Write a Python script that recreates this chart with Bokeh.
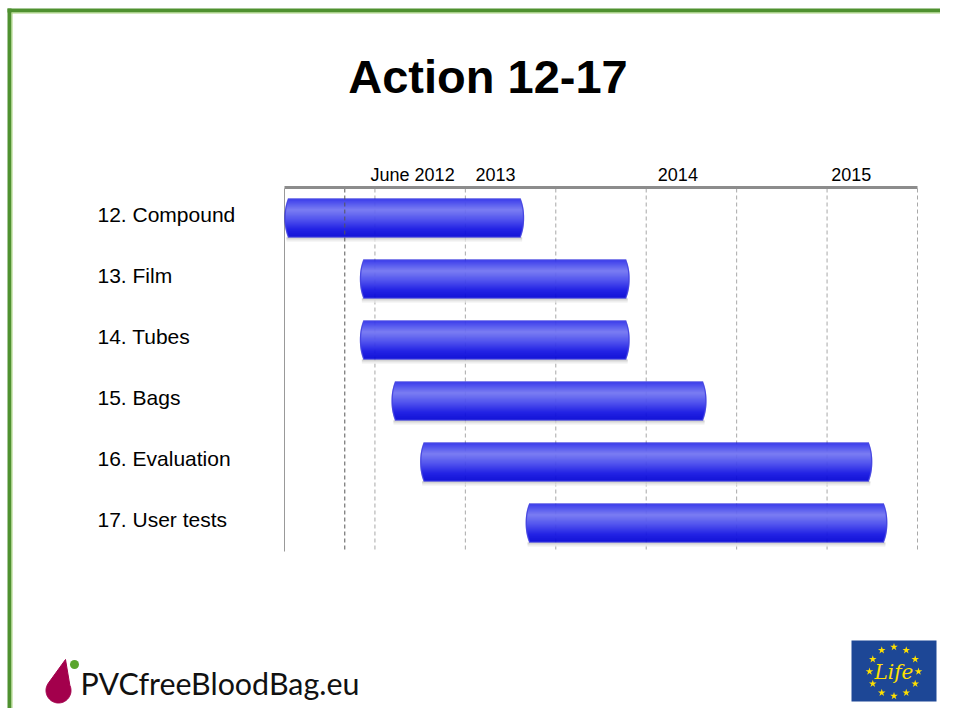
import numpy as np
from bokeh.plotting import figure
from bokeh.models import Range1d
from bokeh.core.properties import value
from bokeh.embed import file_html
from bokeh.resources import INLINE

# ---------------- data ----------------
title_text = "Action 12-17"
tasks = ["12. Compound", "13. Film", "14. Tubes", "15. Bags", "16. Evaluation", "17. User tests"]
# months counted from January 2012
start_month = [0.0, 5.0, 5.0, 7.1, 9.0, 16.0]
end_month = [15.9, 22.9, 22.9, 28.0, 39.0, 40.0]
tick_labels = ["June 2012", "2013", "2014", "2015"]
tick_months = [8.5, 14.0, 26.1, 37.6]
grid_months = [6, 12, 18, 24, 30, 36, 42]
marker_months = [4]
axis_start, axis_end = 0, 42

# ---------------- layout ----------------
W, H = 940, 708
x_m0 = 284          # pixel of month 0
x_m42 = 917         # pixel of month 42
ppm = (x_m42 - x_m0) / (axis_end - axis_start)
bar_h_px = 39
row_px = 61
row0 = 198 + bar_h_px / 2   # pixel of first row centre

x_range = Range1d(-x_m0 / ppm, (W - x_m0) / ppm)
y_range = Range1d(start=(H - row0) / row_px, end=-row0 / row_px)

p = figure(width=W, height=H, x_range=x_range, y_range=y_range,
           x_axis_type=None, y_axis_type=None, min_border=0,
           output_backend="svg", toolbar_location=None)
p.extra_x_ranges = {"px": Range1d(0, W)}
p.extra_y_ranges = {"px": Range1d(H, 0)}
p.grid.visible = False
p.outline_line_color = None
p.background_fill_color = "white"
p.border_fill_color = "white"

FONT = value("Liberation Sans")
rows = np.arange(len(tasks), dtype=float)
starts = np.array(start_month)
ends = np.array(end_month)

# ---------------- grid & axis ----------------
gy0, gy1 = 188, 551
p.segment(x0=grid_months, x1=grid_months, y0=[gy0] * len(grid_months), y1=[gy1] * len(grid_months),
          y_range_name="px", line_color="#a8a8a8", line_width=1, line_dash="4 3")
p.segment(x0=[axis_start], x1=[axis_start], y0=[gy0], y1=[gy1], y_range_name="px",
          line_color="#999999", line_width=1)

# ---------------- bars ----------------
bar_h = bar_h_px / row_px
px_row = 1.0 / row_px
px_m = 1.0 / ppm

# shadow
for k, c in enumerate(["#b8b8b8", "#cdcdcd", "#dedede", "#eeeeee"]):
    p.hbar(y=rows + bar_h / 2 + (k + 0.5) * px_row, left=starts + 2 * px_m, right=ends - 2 * px_m,
           height=px_row, fill_color=c, line_color=None)

stops_t = [0.0, 0.06, 0.30, 0.55, 0.80, 1.0]
stops_c = [(40, 40, 235), (80, 84, 245), (165, 170, 255), (100, 104, 248), (25, 25, 232), (0, 0, 210)]
N = bar_h_px
chamfer = 3.5 * px_m
for k in range(N):
    t = (k + 0.5) / N
    rgb = [int(np.interp(t, stops_t, [c[i] for c in stops_c])) for i in range(3)]
    col = "#%02x%02x%02x" % tuple(rgb)
    inset = chamfer * abs(2 * t - 1) ** 2.2
    yk = rows - bar_h / 2 + t * bar_h
    p.hbar(y=yk, left=starts + inset, right=ends - inset, height=px_row,
           fill_color="#0a0ad8", line_color=None)
    if 0 < k < N - 1:
        p.hbar(y=yk, left=starts + inset + 1.3 * px_m, right=ends - inset - 1.3 * px_m,
               height=px_row, fill_color=col, line_color=None)

# darker marker line drawn over the bars
p.segment(x0=marker_months, x1=marker_months, y0=[gy0] * len(marker_months), y1=[gy1] * len(marker_months),
          y_range_name="px", line_color="#555555", line_width=1, line_dash="4 3")

# axis line (top)
p.segment(x0=[axis_start], x1=[axis_end], y0=[gy0 - 1], y1=[gy0 - 1], y_range_name="px",
          line_color="#8c8c8c", line_width=3)

# ---------------- texts ----------------
p.text(x=tick_months, y=[174] * len(tick_months), text=tick_labels, y_range_name="px",
       text_font=FONT, text_font_size="18px", text_align="center", text_baseline="middle",
       text_color="#000000")

p.text(x=[97] * len(tasks), y=rows - 4 * px_row, text=tasks, x_range_name="px",
       text_font=FONT, text_font_size="21px", text_align="left", text_baseline="middle",
       text_color="#000000")

p.text(x=[487.5], y=[76], text=[title_text], x_range_name="px", y_range_name="px",
       text_font=FONT, text_font_size="47px", text_font_style="bold", text_align="center",
       text_baseline="middle", text_color="#000000")

# ---------------- slide frame (green) ----------------
p.quad(left=[7], right=[W], top=[8], bottom=[12], x_range_name="px", y_range_name="px",
       fill_color="#4f9130", line_color=None)
p.quad(left=[11], right=[W], top=[12], bottom=[13], x_range_name="px", y_range_name="px",
       fill_color="#a8d47c", line_color=None)
p.quad(left=[7], right=[11], top=[8], bottom=[H], x_range_name="px", y_range_name="px",
       fill_color="#4f9130", line_color=None)
p.quad(left=[11], right=[12], top=[12], bottom=[H], x_range_name="px", y_range_name="px",
       fill_color="#a8d47c", line_color=None)

# ---------------- PVCfreeBloodBag logo ----------------
cx, cy, r = 58, 690, 12.5
tipx, tipy = 65, 659
a2 = np.linspace(np.deg2rad(-25), np.deg2rad(215), 60)
bx = cx + r * np.cos(a2)
by = cy + r * np.sin(a2)
drop_x = np.concatenate([[tipx], bx, [tipx]])
drop_y = np.concatenate([[tipy], by, [tipy]])
p.patch(x=drop_x, y=drop_y, x_range_name="px", y_range_name="px",
        fill_color="#a3004c", line_color="#a3004c")
p.scatter(x=[74], y=[664], size=9, x_range_name="px", y_range_name="px",
          fill_color="#5aa52c", line_color=None)
p.text(x=[80], y=[682], text=["PVCfreeBloodBag.eu"], x_range_name="px", y_range_name="px",
       text_font=value("Lato"), text_font_size="30.4px", text_align="left", text_baseline="middle",
       text_color="#111111")

# ---------------- EU LIFE logo ----------------
p.quad(left=[851], right=[936], top=[640], bottom=[701],
       x_range_name="px", y_range_name="px", fill_color="#1d4796", line_color=None)
sa = np.deg2rad(np.arange(12) * 30)
ex, ey, er = 893.5, 671, 24.5
p.scatter(x=ex + er * np.sin(sa), y=ey - er * np.cos(sa), marker="star", size=8,
          x_range_name="px", y_range_name="px", fill_color="#ffe000", line_color=None)
p.text(x=[ex], y=[ey], text=["Life"], x_range_name="px", y_range_name="px",
       text_font=value("DejaVu Serif"), text_font_style="italic", text_font_size="20px",
       text_align="center", text_baseline="middle", text_color="#ffe000")

open("out.html", "w").write(file_html(p, INLINE, title="Action 12-17"))
